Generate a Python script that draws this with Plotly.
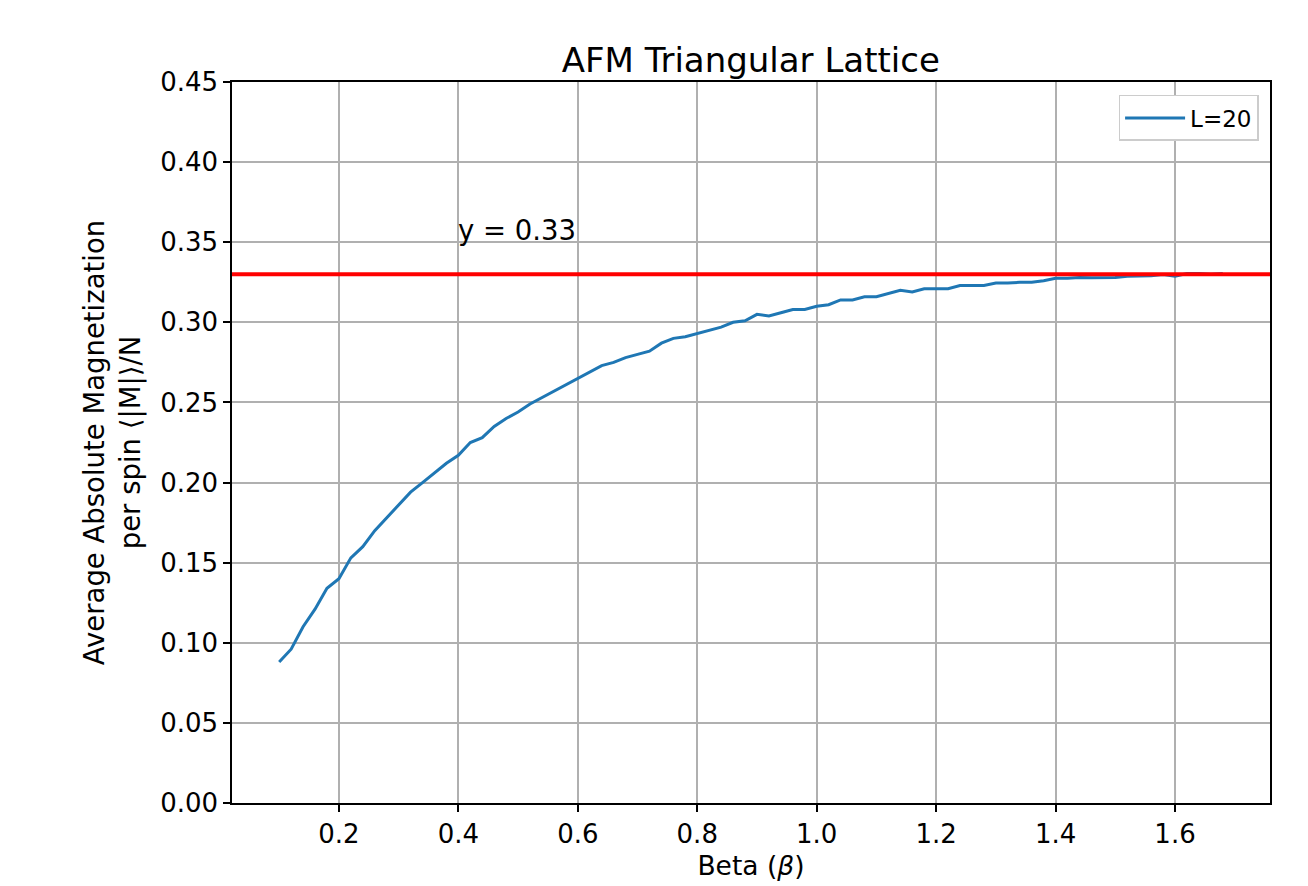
import plotly.graph_objects as go

# ---- data ----
beta = [0.10, 0.12, 0.14, 0.16, 0.18, 0.20, 0.22, 0.24, 0.26, 0.28,
        0.30, 0.32, 0.34, 0.36, 0.38, 0.40, 0.42, 0.44, 0.46, 0.48,
        0.50, 0.52, 0.54, 0.56, 0.58, 0.60, 0.62, 0.64, 0.66, 0.68,
        0.70, 0.72, 0.74, 0.76, 0.78, 0.80, 0.82, 0.84, 0.86, 0.88,
        0.90, 0.92, 0.94, 0.96, 0.98, 1.00, 1.02, 1.04, 1.06, 1.08,
        1.10, 1.12, 1.14, 1.16, 1.18, 1.20, 1.22, 1.24, 1.26, 1.28,
        1.30, 1.32, 1.34, 1.36, 1.38, 1.40, 1.42, 1.44, 1.46, 1.48,
        1.50, 1.52, 1.54, 1.56, 1.58, 1.60, 1.62, 1.64, 1.66, 1.68]
magnetization = [0.088, 0.096, 0.110, 0.121, 0.134, 0.140, 0.153, 0.160, 0.170, 0.178,
                 0.186, 0.194, 0.200, 0.206, 0.212, 0.217, 0.225, 0.228, 0.235, 0.240,
                 0.244, 0.249, 0.253, 0.257, 0.261, 0.265, 0.269, 0.273, 0.275, 0.278,
                 0.280, 0.282, 0.287, 0.290, 0.291, 0.293, 0.295, 0.297, 0.300, 0.301,
                 0.305, 0.304, 0.306, 0.308, 0.308, 0.310, 0.311, 0.314, 0.314, 0.316,
                 0.316, 0.318, 0.320, 0.319, 0.321, 0.321, 0.321, 0.323, 0.323, 0.323,
                 0.3245, 0.3245, 0.325, 0.325, 0.326, 0.3275, 0.3275, 0.328, 0.3278, 0.328,
                 0.328, 0.3288, 0.3288, 0.329, 0.3298, 0.3288, 0.3305, 0.3305, 0.330, 0.3305]
series_name = "L=20"
hline_y = 0.33
hline_label = "y = 0.33"
label_pos = (0.40, 0.35)
y_ticks = [0.00, 0.05, 0.10, 0.15, 0.20, 0.25, 0.30, 0.35, 0.40, 0.45]
x_ticks = [0.2, 0.4, 0.6, 0.8, 1.0, 1.2, 1.4, 1.6]

FONT = "DejaVu Sans"
pad = 0.05 * (max(beta) - min(beta))
x_range = [min(beta) - pad, max(beta) + pad]

fig = go.Figure()
fig.add_trace(go.Scatter(x=beta, y=magnetization, mode="lines", name=series_name,
                         line=dict(color="#1f77b4", width=3)))
fig.add_hline(y=hline_y, line=dict(color="red", width=4), layer="above")
fig.add_annotation(x=label_pos[0], y=label_pos[1], text=hline_label, showarrow=False,
                   xanchor="left", yanchor="bottom", xshift=-2, yshift=-6,
                   font=dict(family=FONT, size=27.5, color="black"))

axis_common = dict(showline=True, linecolor="black", linewidth=1.5, mirror=True,
                   ticks="outside", ticklen=7, tickwidth=1.5, tickcolor="black",
                   showgrid=True, gridcolor="#b0b0b0", gridwidth=1.5, zeroline=False,
                   automargin=False,
                   tickfont=dict(family=FONT, size=26, color="black"))

fig.update_layout(
    width=1308, height=886,
    margin=dict(l=232, r=38, t=82, b=83),
    paper_bgcolor="white", plot_bgcolor="white",
    title=dict(text="AFM Triangular Lattice", x=0.574, xanchor="center",
               y=1 - 60 / 886, yanchor="middle",
               font=dict(family=FONT, size=34, color="black")),
    xaxis=dict(range=x_range, tickvals=x_ticks, tickformat=".1f",
               title=dict(text="Beta (<i>β</i>)", standoff=8,
                          font=dict(family=FONT, size=26.5, color="black")),
               **axis_common),
    yaxis=dict(range=[0, 0.45], tickvals=y_ticks, tickformat=".2f",
               title=dict(text="Average Absolute Magnetization<br>per spin ⟨|M|⟩/N", standoff=12,
                          font=dict(family=FONT, size=27.5, color="black")),
               **axis_common),
    showlegend=True,
    legend=dict(x=0.989, y=0.982, xanchor="right", yanchor="top",
                bgcolor="white", bordercolor="#cccccc", borderwidth=1.5,
                itemwidth=60,
                font=dict(family=FONT, size=23, color="black")),
)

fig.write_html("out.html")
